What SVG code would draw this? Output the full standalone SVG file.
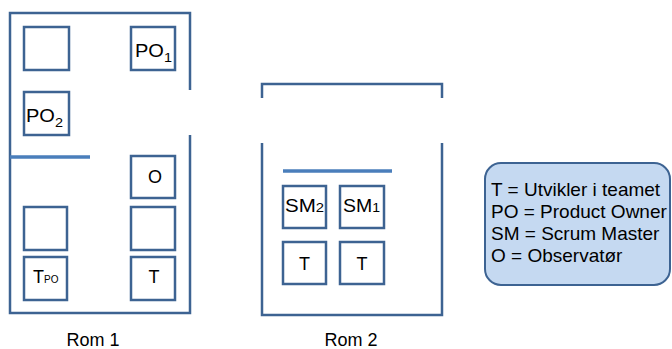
<svg xmlns="http://www.w3.org/2000/svg" width="672" height="349" viewBox="0 0 672 349">
  <style>
    .wall { fill: none; stroke: #3d6392; stroke-width: 2.5; }
    .desk { fill: #ffffff; stroke: #3d6392; stroke-width: 2.5; }
    .board { stroke: #4a7ebb; stroke-width: 3.5; }
    text { font-family: "Liberation Sans", Arial, sans-serif; fill: #000000; }
    .lbl { font-size: 18px; }
    .sub { font-size: 13px; }
    .tiny { font-size: 10px; }
    .room { font-size: 18px; text-anchor: middle; }
    .legend { font-size: 19px; }
  </style>

  <!-- Room 1: walls with a door opening on the right -->
  <g id="rom1">
    <path class="wall" d="M190,90 V13 H10 V313 H190 V135"/>
    <line class="board" x1="10" y1="157" x2="90" y2="157"/>
    <text class="room" x="93" y="346">Rom 1</text>
  </g>
  <g id="r1-desk-a"><rect class="desk" x="24" y="27" width="45" height="43"/></g>
  <g id="r1-po1">
    <rect class="desk" x="131" y="27" width="44" height="43"/>
    <text class="lbl" x="135" y="57" textLength="37" lengthAdjust="spacingAndGlyphs">PO<tspan class="sub" dy="5">1</tspan></text>
  </g>
  <g id="r1-po2">
    <rect class="desk" x="24" y="92" width="45" height="43"/>
    <text class="lbl" x="26" y="122" textLength="37" lengthAdjust="spacingAndGlyphs">PO<tspan class="sub" dy="5">2</tspan></text>
  </g>
  <g id="r1-o">
    <rect class="desk" x="131" y="156" width="44" height="42"/>
    <text class="lbl" x="155" y="183" text-anchor="middle">O</text>
  </g>
  <g id="r1-desk-b"><rect class="desk" x="24" y="207" width="43" height="43"/></g>
  <g id="r1-desk-c"><rect class="desk" x="131" y="207" width="44" height="43"/></g>
  <g id="r1-tpo">
    <rect class="desk" x="24" y="257" width="43" height="43"/>
    <text class="lbl" x="33" y="283">T<tspan class="tiny">PO</tspan></text>
  </g>
  <g id="r1-t">
    <rect class="desk" x="131" y="257" width="44" height="43"/>
    <text class="lbl" x="154" y="283" text-anchor="middle">T</text>
  </g>

  <!-- Room 2: open gap in the side walls -->
  <g id="rom2">
    <path class="wall" d="M262,98 V84 H442 V98"/>
    <path class="wall" d="M262,143 V315 H442 V143"/>
    <line class="board" x1="283" y1="171" x2="392" y2="171"/>
    <text class="room" x="351" y="346">Rom 2</text>
  </g>
  <g id="r2-sm2">
    <rect class="desk" x="283" y="186" width="43" height="42"/>
    <text class="lbl" x="285" y="212" textLength="39" lengthAdjust="spacingAndGlyphs">SM<tspan class="sub">2</tspan></text>
  </g>
  <g id="r2-sm1">
    <rect class="desk" x="340" y="186" width="44" height="42"/>
    <text class="lbl" x="343" y="212" textLength="37" lengthAdjust="spacingAndGlyphs">SM<tspan class="sub">1</tspan></text>
  </g>
  <g id="r2-t1">
    <rect class="desk" x="283" y="242" width="43" height="42"/>
    <text class="lbl" x="304.5" y="270" text-anchor="middle">T</text>
  </g>
  <g id="r2-t2">
    <rect class="desk" x="340" y="242" width="44" height="42"/>
    <text class="lbl" x="362" y="270" text-anchor="middle">T</text>
  </g>

  <!-- Legend -->
  <g id="legend">
    <rect x="485" y="163" width="185" height="122" rx="16" ry="16" fill="#c5d9f1" stroke="#3d6392" stroke-width="2"/>
    <text class="legend" x="491" y="196">T = Utvikler i teamet</text>
    <text class="legend" x="491" y="218">PO = Product Owner</text>
    <text class="legend" x="491" y="240">SM = Scrum Master</text>
    <text class="legend" x="491" y="262">O = Observatør</text>
  </g>
</svg>
